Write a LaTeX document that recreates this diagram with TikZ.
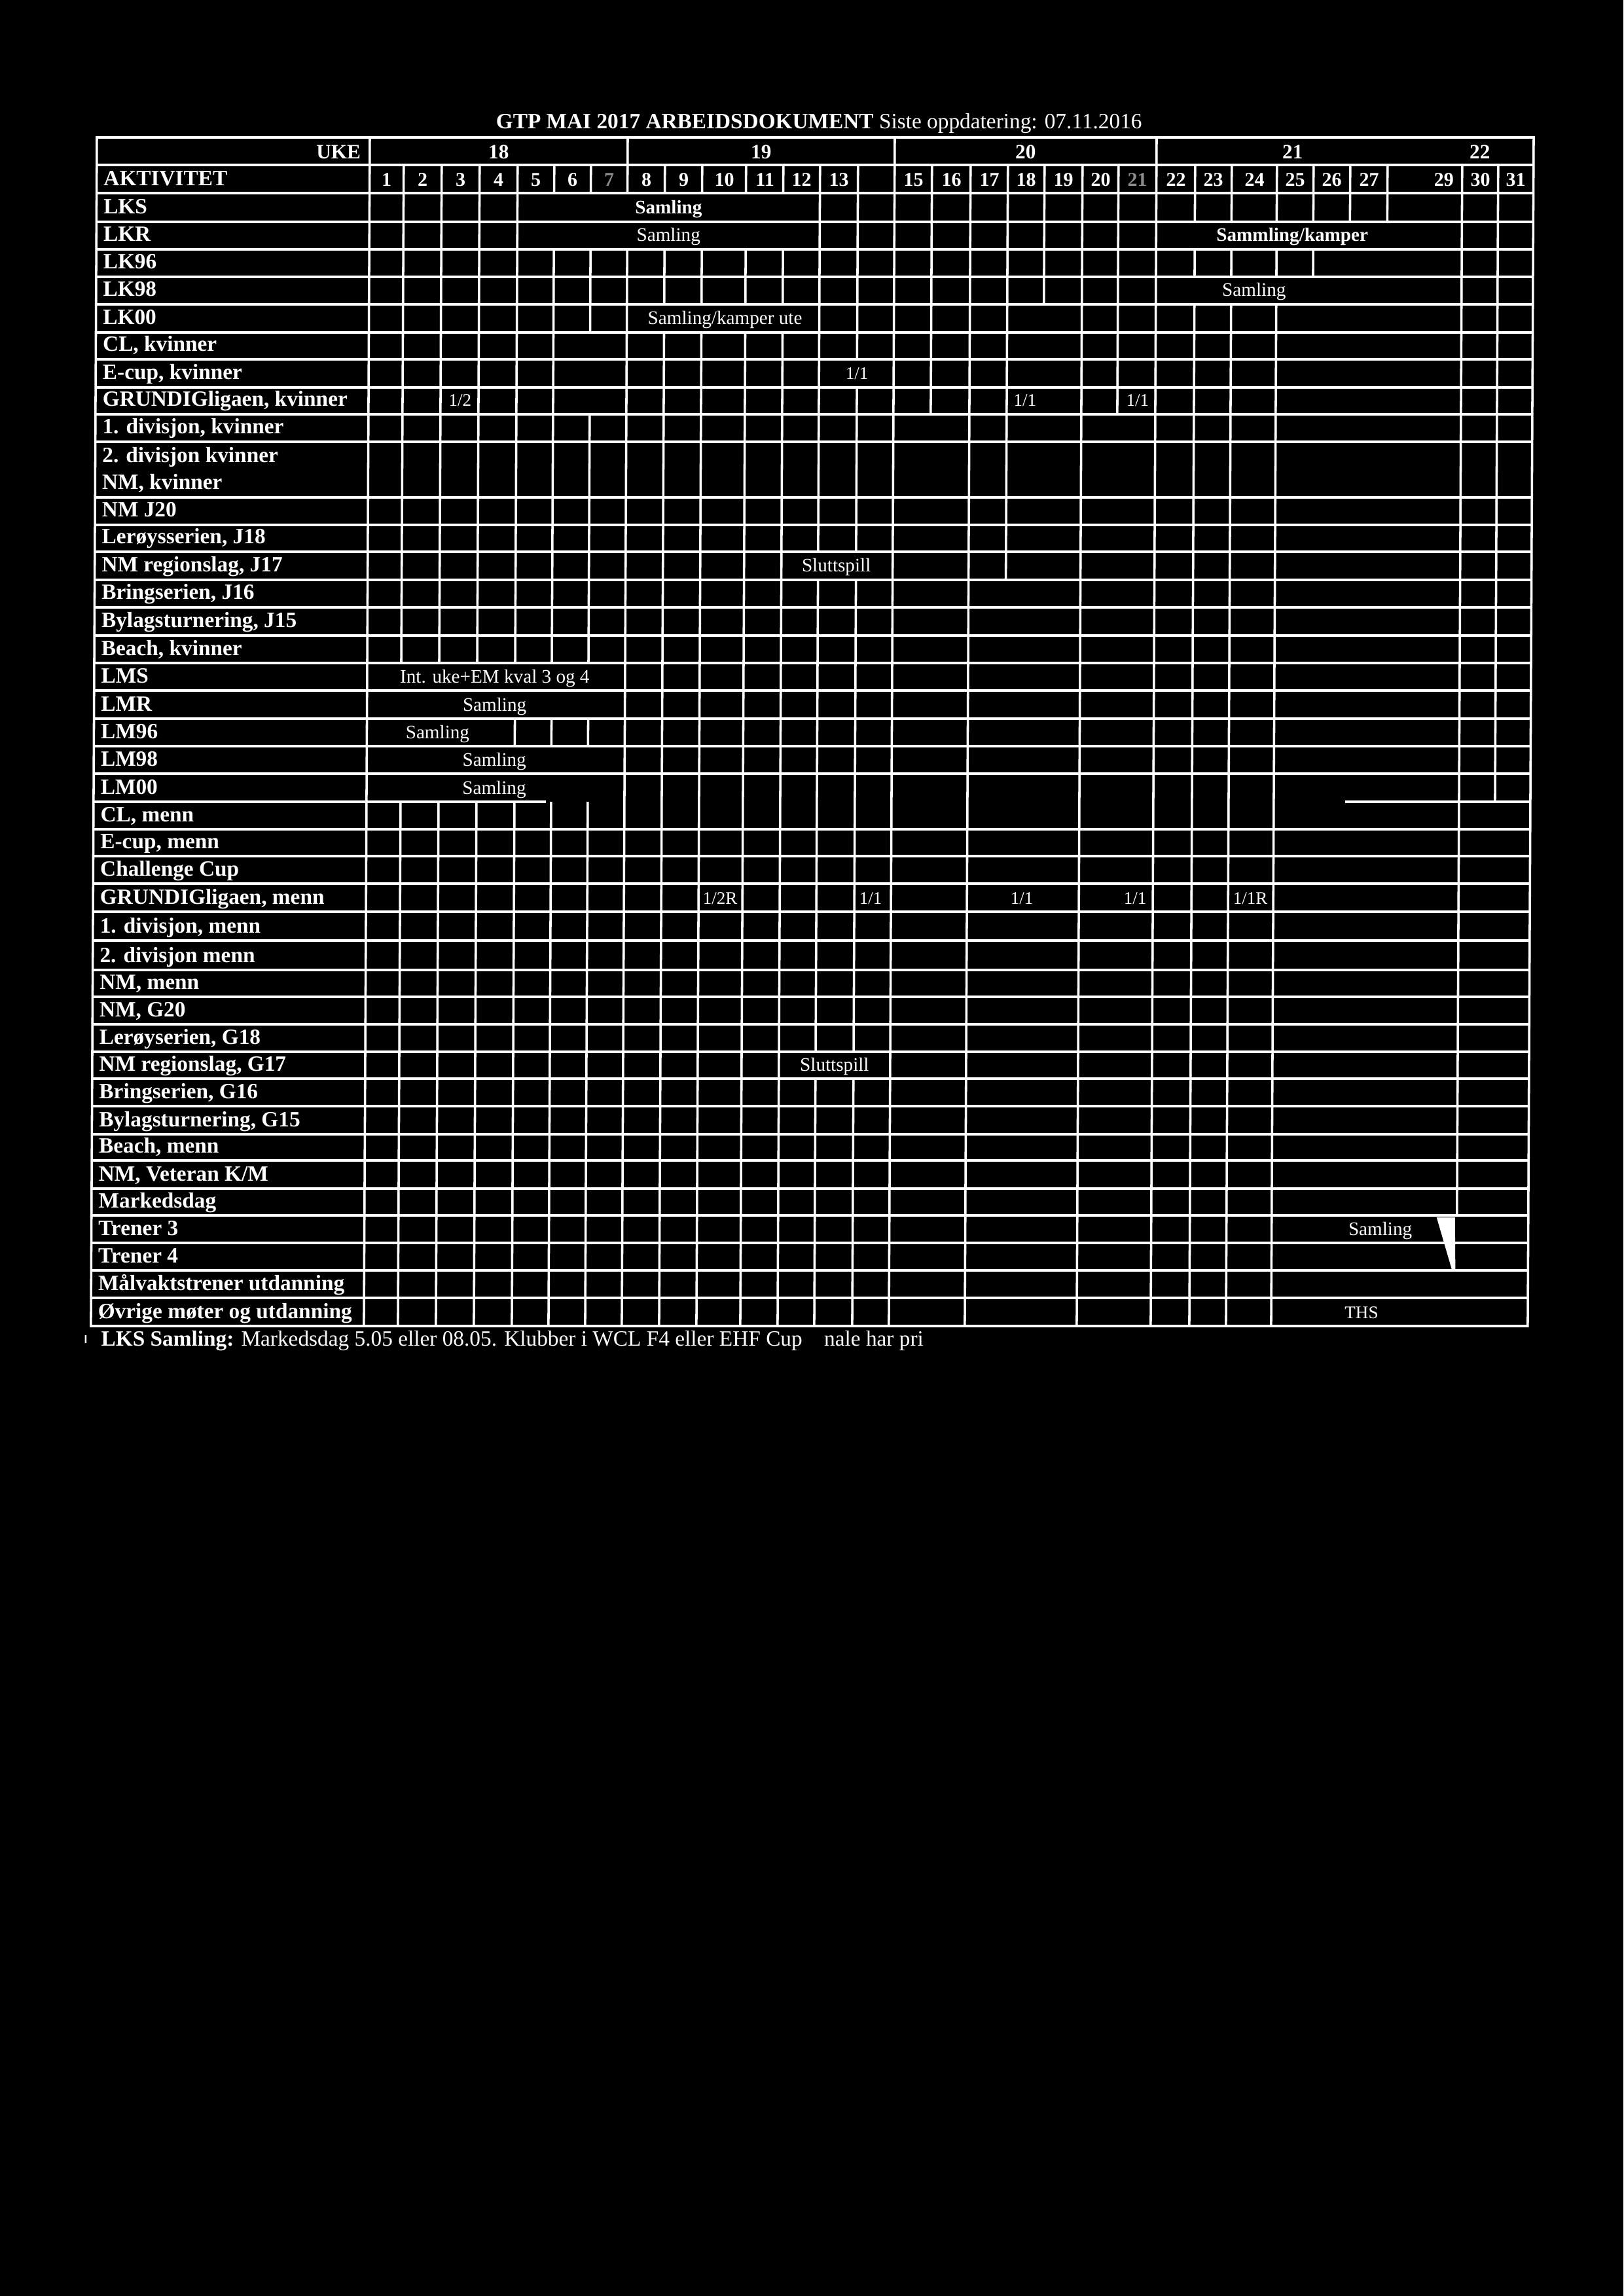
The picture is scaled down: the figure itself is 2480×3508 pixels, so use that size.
\documentclass[tikz,border=0pt]{standalone}
\usepackage{fontspec}
\setmainfont{Liberation Serif}
\newcommand\vrow[3]{\foreach \xx in {#3}{\draw[gl] (\xx,#1) -- (\xx,#2);}}
\begin{document}
\begin{tikzpicture}[x=0.24pt,y=-0.24pt,
  gl/.style={white,line width=0.85pt},
  lab/.style={text=white,inner sep=0pt,font=\fontsize{8}{9.6}\selectfont\bfseries,anchor=base west},
  hdr/.style={text=white,inner sep=0pt,font=\fontsize{7.5}{9}\selectfont\bfseries,anchor=base},
  day/.style={text=white,inner sep=0pt,font=\fontsize{7.2}{9}\selectfont\bfseries,anchor=base},
  faded/.style={day,text=black!45!white},
  cel/.style={text=white,inner sep=0pt,font=\fontsize{7}{8.4}\selectfont,anchor=base},
  celb/.style={cel,font=\fontsize{7}{8.4}\selectfont\bfseries},
  sml/.style={text=white,inner sep=0pt,font=\fontsize{6.5}{8}\selectfont,anchor=base},
  note/.style={text=white,inner sep=0pt,font=\fontsize{8}{9.6}\selectfont,anchor=base west}]
\fill[black] (0,0) rectangle (2480,3508);
\useasboundingbox (0,0) rectangle (2480,3508);
\node[text=white,inner sep=0pt,anchor=base west,font=\fontsize{8}{9.6}\selectfont] (title) at (757,197)
  {\textbf{GTP MAI 2017 ARBEIDSDOKUMENT} Siste oppdatering: 07.11.2016};
\begin{scope}[xshift=0.252pt,xslant=0.005]
% horizontal lines
\foreach \yy in {210,252,295,339,381,423,465,508,549,592,633,675,760,802,843,886,928,971,1013,1055,1098,1140,1182,1267,1308,1350,1393,1437,1482,1523,1565,1607,1648,1690,1733,1773,1816,1857,1899,1941,1983,2026}
  {\draw[gl] (148,\yy) -- (2343,\yy);}
\draw[gl] (148,1225) -- (839,1225);
\draw[gl] (2060,1225) -- (2343,1225);
% border and label column
\draw[gl,line cap=rect] (148,210) -- (148,2026);
\draw[gl,line cap=rect] (2343,210) -- (2343,2026);
\draw[gl] (565,210) -- (565,2026);
% vertical lines per row
\vrow{210}{252}{959,1367,1767}
\vrow{252}{295}{617,675,733,791,847,903,959,1016,1073,1140,1197,1253,1311,1367,1424,1483,1540,1596,1654,1709,1767,1826,1882,1951,2007,2063,2120,2234,2289}
\vrow{295}{339}{617,675,733,791,1253,1311,1367,1424,1483,1540,1596,1654,1709,1767,1826,1882,1951,2007,2063,2120,2234,2289}
\vrow{339}{381}{617,675,733,791,1253,1311,1367,1424,1483,1540,1596,1654,1709,1767,2234,2289}
\vrow{381}{423}{617,675,733,791,847,903,959,1016,1073,1140,1197,1253,1311,1367,1424,1483,1540,1596,1654,1709,1767,1826,1882,1951,2007,2234,2289}
\vrow{423}{465}{617,675,733,791,847,903,959,1016,1073,1140,1197,1253,1311,1367,1424,1483,1540,1596,1654,1709,1767,2234,2289}
\vrow{465}{508}{617,675,733,791,847,903,959,1253,1311,1367,1424,1483,1540,1654,1709,1767,1826,1882,1951,2234,2289}
\vrow{508}{549}{617,675,733,791,847,959,1016,1073,1140,1197,1253,1311,1367,1424,1483,1540,1654,1709,1767,1826,1882,1951,2234,2289}
\vrow{549}{592}{617,675,733,791,847,959,1016,1073,1140,1197,1253,1367,1424,1483,1540,1654,1709,1767,1826,1882,1951,2234,2289}
\vrow{592}{633}{617,675,733,791,847,959,1016,1073,1140,1197,1253,1311,1367,1424,1483,1540,1654,1709,1767,1826,1882,1951,2234,2289}
\vrow{633}{843}{617,675,733,791,847,903,959,1016,1073,1140,1197,1253,1311,1367,1483,1540,1654,1767,1826,1882,1951,2234,2289}
\vrow{843}{886}{617,675,733,791,847,903,959,1016,1073,1140,1197,1367,1483,1540,1654,1767,1826,1882,1951,2234,2289}
\vrow{886}{1013}{617,675,733,791,847,903,959,1016,1073,1140,1197,1253,1311,1367,1483,1654,1767,1826,1882,1951,2234,2289}
\vrow{1013}{1225}{959,1016,1073,1140,1197,1253,1311,1367,1483,1654,1767,1826,1882,1951,2234,2289}
\vrow{1098}{1140}{791,847,903}
\vrow{1225}{1607}{617,675,733,791,847,903,959,1016,1073,1140,1197,1253,1311,1367,1483,1654,1767,1826,1882,1951,2234}
\vrow{1607}{1648}{617,675,733,791,847,903,959,1016,1073,1140,1197,1367,1483,1654,1767,1826,1882,1951,2234}
\vrow{1648}{1857}{617,675,733,791,847,903,959,1016,1073,1140,1197,1253,1311,1367,1483,1654,1767,1826,1882,1951,2234}
\vrow{1857}{2026}{617,675,733,791,847,903,959,1016,1073,1140,1197,1253,1311,1367,1483,1654,1767,1826,1882,1951}
\fill[white] (2203,1860) -- (2231,1860) -- (2232,1941) -- (2227,1941) -- cycle;
% header texts
\node[hdr,anchor=base east] (uke) at (552,243) {UKE};
\node[hdr] (w18) at (762,243) {18};
\node[hdr] (w19) at (1163,243) {19};
\node[hdr] (w20) at (1567,243) {20};
\node[hdr] (w21) at (1975,243) {21};
\node[hdr] (w22) at (2261,243) {22};
\node[lab] (akt) at (158,284) {AKTIVITET};
\node[day] (d1) at (591,285) {1};
\node[day] (d2) at (646,285) {2};
\node[day] (d3) at (704,285) {3};
\node[day] (d4) at (762,285) {4};
\node[day] (d5) at (819,285) {5};
\node[day] (d6) at (875,285) {6};
\node[faded] (d7) at (931,285) {7};
\node[day] (d8) at (988,285) {8};
\node[day] (d9) at (1045,285) {9};
\node[day] (d10) at (1107,285) {10};
\node[day] (d11) at (1169,285) {11};
\node[day] (d12) at (1225,285) {12};
\node[day] (d13) at (1282,285) {13};
\node[day] (d15) at (1396,285) {15};
\node[day] (d16) at (1454,285) {16};
\node[day] (d17) at (1512,285) {17};
\node[day] (d18) at (1568,285) {18};
\node[day] (d19) at (1625,285) {19};
\node[day] (d20) at (1682,285) {20};
\node[faded] (d21) at (1738,285) {21};
\node[day] (d22) at (1797,285) {22};
\node[day] (d23) at (1854,285) {23};
\node[day] (d24) at (1917,285) {24};
\node[day] (d25) at (1979,285) {25};
\node[day] (d26) at (2035,285) {26};
\node[day] (d27) at (2092,285) {27};
\node[day,anchor=base east] (d29) at (2222,285) {29};
\node[day] (d30) at (2262,285) {30};
\node[day] (d31) at (2316,285) {31};
% row labels
\node[lab] (r2) at (158,327) {LKS};
\node[lab] (r3) at (158,369) {LKR};
\node[lab] (r4) at (158,411) {LK96};
\node[lab] (r5) at (158,453) {LK98};
\node[lab] (r6) at (158,496) {LK00};
\node[lab] (r7) at (158,537) {CL, kvinner};
\node[lab] (r8) at (158,580) {E-cup, kvinner};
\node[lab] (r9) at (158,621) {GRUNDIGligaen, kvinner};
\node[lab] (r10) at (158,663) {1. divisjon, kvinner};
\node[lab] (r11a) at (158,707) {2. divisjon kvinner};
\node[lab] (r11b) at (158,748) {NM, kvinner};
\node[lab] (r12) at (158,790) {NM J20};
\node[lab] (r13) at (158,831) {Lerøysserien, J18};
\node[lab] (r14) at (158,874) {NM regionslag, J17};
\node[lab] (r15) at (158,916) {Bringserien, J16};
\node[lab] (r16) at (158,959) {Bylagsturnering, J15};
\node[lab] (r17) at (158,1001) {Beach, kvinner};
\node[lab] (r18) at (158,1043) {LMS};
\node[lab] (r19) at (158,1086) {LMR};
\node[lab] (r20) at (158,1128) {LM96};
\node[lab] (r21) at (158,1170) {LM98};
\node[lab] (r22) at (158,1213) {LM00};
\node[lab] (r23) at (158,1255) {CL, menn};
\node[lab] (r24) at (158,1296) {E-cup, menn};
\node[lab] (r25) at (158,1338) {Challenge Cup};
\node[lab] (r26) at (158,1381) {GRUNDIGligaen, menn};
\node[lab] (r27) at (158,1425) {1. divisjon, menn};
\node[lab] (r28) at (158,1470) {2. divisjon menn};
\node[lab] (r29) at (158,1511) {NM, menn};
\node[lab] (r30) at (158,1553) {NM, G20};
\node[lab] (r31) at (158,1595) {Lerøyserien, G18};
\node[lab] (r32) at (158,1636) {NM regionslag, G17};
\node[lab] (r33) at (158,1678) {Bringserien, G16};
\node[lab] (r34) at (158,1721) {Bylagsturnering, G15};
\node[lab] (r35) at (158,1761) {Beach, menn};
\node[lab] (r36) at (158,1804) {NM, Veteran K/M};
\node[lab] (r37) at (158,1845) {Markedsdag};
\node[lab] (r38) at (158,1887) {Trener 3};
\node[lab] (r39) at (158,1929) {Trener 4};
\node[lab] (r40) at (158,1971) {Målvaktstrener utdanning};
\node[lab] (r41) at (158,2014) {Øvrige møter og utdanning};
% cell texts
\node[celb] (c1) at (1022,327) {Samling};
\node[cel] (c2) at (1022,369) {Samling};
\node[celb] (c3) at (1975,369) {Sammling/kamper};
\node[cel] (c4) at (1917,453) {Samling};
\node[cel] (c5) at (1109,496) {Samling/kamper ute};
\node[sml] (c6) at (1311,580) {1/1};
\node[sml] (c7) at (705,621) {1/2};
\node[sml] (c8) at (1568,621) {1/1};
\node[sml] (c9) at (1740,621) {1/1};
\node[cel] (c10) at (1281,874) {Sluttspill};
\node[cel] (c11) at (760,1043) {Int. uke+EM kval 3 og 4};
\node[cel] (c12) at (760,1086) {Samling};
\node[cel] (c13) at (673,1128) {Samling};
\node[cel] (c14) at (760,1170) {Samling};
\node[cel] (c15) at (760,1213) {Samling};
\node[sml] (c16) at (1106,1381) {1/2R};
\node[sml] (c17) at (1336,1381) {1/1};
\node[sml] (c18) at (1567,1381) {1/1};
\node[sml] (c19) at (1740,1381) {1/1};
\node[sml] (c20) at (1916,1381) {1/1R};
\node[cel] (c21) at (1282,1636) {Sluttspill};
\node[cel] (c22) at (2117,1887) {Samling};
\node[sml] (c23) at (2089,2014) {THS};
% footnote
\draw[white,line width=0.6pt] (140,2040) -- (140,2052);
\node[note] (fn) at (163,2056) {\textbf{LKS Samling:} Markedsdag 5.05 eller 08.05. Klubber i WCL F4 eller EHF Cup\hspace{1em}nale har pri};
\end{scope}
\end{tikzpicture}
\end{document}
